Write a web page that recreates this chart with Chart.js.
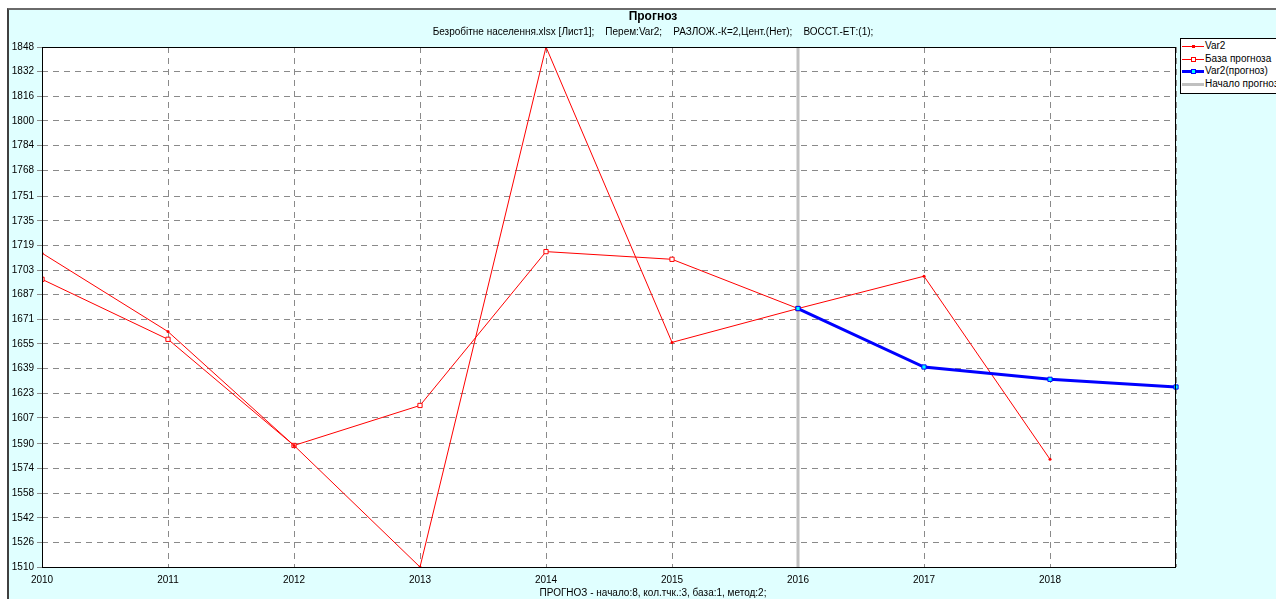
<!DOCTYPE html>
<html>
<head>
<meta charset="utf-8">
<script src="https://cdn.jsdelivr.net/npm/chart.js@4.4.1/dist/chart.umd.min.js"></script>
<style>
  html, body { margin: 0; padding: 0; width: 1276px; height: 599px; overflow: hidden; background: #fff; }
  body { position: relative; font-family: "Liberation Sans", Arial, sans-serif; color: #000; }
  #frame { position: absolute; left: 7px; top: 8px; width: 1400px; height: 700px; background: #e0ffff;
           border-top: 2px solid #6a6a6a; border-left: 2px solid #404040; }
  #chart { position: absolute; left: 0; top: 0; }
  .txt { position: absolute; left: 253px; width: 800px; text-align: center; white-space: pre; }
  #title { top: 9px; font-size: 12px; font-weight: bold; }
  #subtitle { top: 26px; font-size: 10px; }
  #footer { top: 587px; font-size: 10px; }
  #legend { position: absolute; left: 1180px; top: 38px; width: 130px; height: 54px; background: #fff;
            border: 1px solid #000; font-size: 10px; white-space: nowrap; padding-top: 1px; box-sizing: border-box; height: 56px; }
  .row { position: relative; height: 12.5px; line-height: 12.5px; padding-left: 24px; }
  .line { position: absolute; left: 1px; width: 22px; top: 6px; }
  .mark { position: absolute; left: 10px; box-sizing: border-box; }
</style>
</head>
<body>
<div id="frame"></div>
<canvas id="chart" width="1276" height="599"></canvas>
<div id="title" class="txt">Прогноз</div>
<div id="subtitle" class="txt">Безробітне населення.xlsx [Лист1];    Перем:Var2;    РАЗЛОЖ.-К=2,Цент.(Нет);    ВОССТ.-ЕТ:(1);</div>
<div id="footer" class="txt">ПРОГНОЗ - начало:8, кол.тчк.:3, база:1, метод:2;</div>
<div id="legend"></div>
<script>
// Data
const var2Years = [2010, 2011, 2012, 2013, 2014, 2015, 2016, 2017, 2018];
const var2Values = [1714, 1663, 1589, 1510, 1848, 1656, 1678, 1699, 1580];
const baseYears = [2010, 2011, 2012, 2013, 2014, 2015, 2016];
const baseValues = [1697, 1658, 1589, 1615, 1715, 1710, 1678];
const forecastYears = [2016, 2017, 2018, 2019];
const forecastValues = [1678, 1640, 1632, 1627];
const forecastStart = 2016;

// Axes
const xMin = 2010;
const xMax = 2019;
const xTickYears = [2010, 2011, 2012, 2013, 2014, 2015, 2016, 2017, 2018, 2019];
const xTickLabels = ["2010", "2011", "2012", "2013", "2014", "2015", "2016", "2017", "2018", ""];
const yMin = 1510;
const yMax = 1848;
const yTickValues = [1510, 1526, 1542, 1558, 1574, 1590, 1607, 1623, 1639, 1655, 1671,
                     1687, 1703, 1719, 1735, 1751, 1768, 1784, 1800, 1816, 1832, 1848];

const toPoints = (xs, ys) => xs.map((x, i) => ({ x: x, y: ys[i] }));

const datasets = [
  {
    label: "Var2",
    data: toPoints(var2Years, var2Values),
    borderColor: "#ff0000",
    backgroundColor: "#ff0000",
    borderWidth: 1,
    pointStyle: "circle",
    pointRadius: 1.5,
    pointBorderWidth: 0,
    order: 2,
  },
  {
    label: "База прогноза",
    data: toPoints(baseYears, baseValues),
    borderColor: "#ff0000",
    backgroundColor: "#ffffff",
    borderWidth: 1,
    pointStyle: "rect",
    pointRadius: 3,
    pointBorderWidth: 1,
    order: 3,
  },
  {
    label: "Var2(прогноз)",
    data: toPoints(forecastYears, forecastValues),
    borderColor: "#0000ff",
    backgroundColor: "#00ffff",
    borderWidth: 3,
    pointStyle: "rect",
    pointRadius: 3,
    pointBorderWidth: 1,
    pointBorderColor: "#0000ff",
    clip: false,
    order: 1,
  },
  {
    label: "Начало прогноза",
    data: [{ x: forecastStart, y: yMin }, { x: forecastStart, y: yMax }],
    borderColor: "#c0c0c0",
    backgroundColor: "#c0c0c0",
    borderWidth: 3,
    pointRadius: 0,
    order: 4,
  },
];

// white plot area with a black frame
const plotFrame = {
  id: "plotFrame",
  beforeDraw(chart) {
    const { ctx, chartArea: a } = chart;
    ctx.save();
    ctx.fillStyle = "#ffffff";
    ctx.fillRect(a.left, a.top, a.right - a.left, a.bottom - a.top);
    ctx.restore();
  },
  afterDraw(chart) {
    const { ctx, chartArea: a } = chart;
    ctx.save();
    ctx.strokeStyle = "#000000";
    ctx.lineWidth = 1;
    ctx.strokeRect(a.left + 0.5, a.top + 0.5, a.right - a.left - 1, a.bottom - a.top);
    ctx.restore();
  },
};

const font = { family: "'Liberation Sans', Arial, sans-serif", size: 10 };

new Chart(document.getElementById("chart").getContext("2d"), {
  type: "line",
  data: { datasets: datasets },
  options: {
    responsive: false,
    animation: false,
    devicePixelRatio: 1,
    layout: { padding: { top: 47, right: 100, left: 0, bottom: 0 } },
    elements: { line: { tension: 0 } },
    plugins: {
      legend: { display: false },
      title: { display: false },
      tooltip: { enabled: false },
    },
    scales: {
      x: {
        type: "linear",
        min: xMin,
        max: xMax,
        afterBuildTicks: (scale) => {
          scale.ticks = xTickYears.map((v) => ({ value: v }));
        },
        afterFit: (scale) => { scale.height = 32; },
        ticks: {
          font: font,
          color: "#000",
          padding: 7,
          maxRotation: 0,
          autoSkip: false,
          callback: (v) => xTickLabels[xTickYears.indexOf(v)],
        },
        grid: { color: "#8a8a8a", lineWidth: 1, drawTicks: false },
        border: { display: false, dash: [6, 5] },
      },
      y: {
        min: yMin,
        max: yMax,
        afterBuildTicks: (scale) => {
          scale.ticks = yTickValues.map((v) => ({ value: v }));
        },
        afterFit: (scale) => { scale.width = 42; },
        ticks: {
          font: font,
          color: "#000",
          padding: 3,
          autoSkip: false,
          callback: (v) => String(v),
        },
        grid: { color: "#8a8a8a", lineWidth: 1, tickLength: 5, tickColor: "#8a8a8a", tickBorderDash: [] },
        border: { display: false, dash: [6, 5] },
      },
    },
  },
  plugins: [plotFrame],
});

// HTML legend built from the datasets
const legend = document.getElementById("legend");
datasets.forEach((ds) => {
  const row = document.createElement("div");
  row.className = "row";
  const line = document.createElement("div");
  line.className = "line";
  line.style.borderTop = ds.borderWidth + "px solid " + ds.borderColor;
  line.style.marginTop = -Math.floor(ds.borderWidth / 2) + "px";
  row.appendChild(line);
  if (ds.pointRadius > 0) {
    const mark = document.createElement("div");
    mark.className = "mark";
    const size = ds.pointStyle === "rect" ? 5 : 3;
    mark.style.width = size + "px";
    mark.style.height = size + "px";
    mark.style.top = (6.5 - size / 2) + "px";
    mark.style.left = (12 - size / 2) + "px";
    if (ds.pointStyle === "rect") {
      mark.style.background = ds.backgroundColor;
      mark.style.border = "1px solid " + (ds.pointBorderColor || ds.borderColor);
    } else {
      mark.style.background = ds.borderColor;
    }
    row.appendChild(mark);
  }
  row.appendChild(document.createTextNode(ds.label));
  legend.appendChild(row);
});
</script>
</body>
</html>
